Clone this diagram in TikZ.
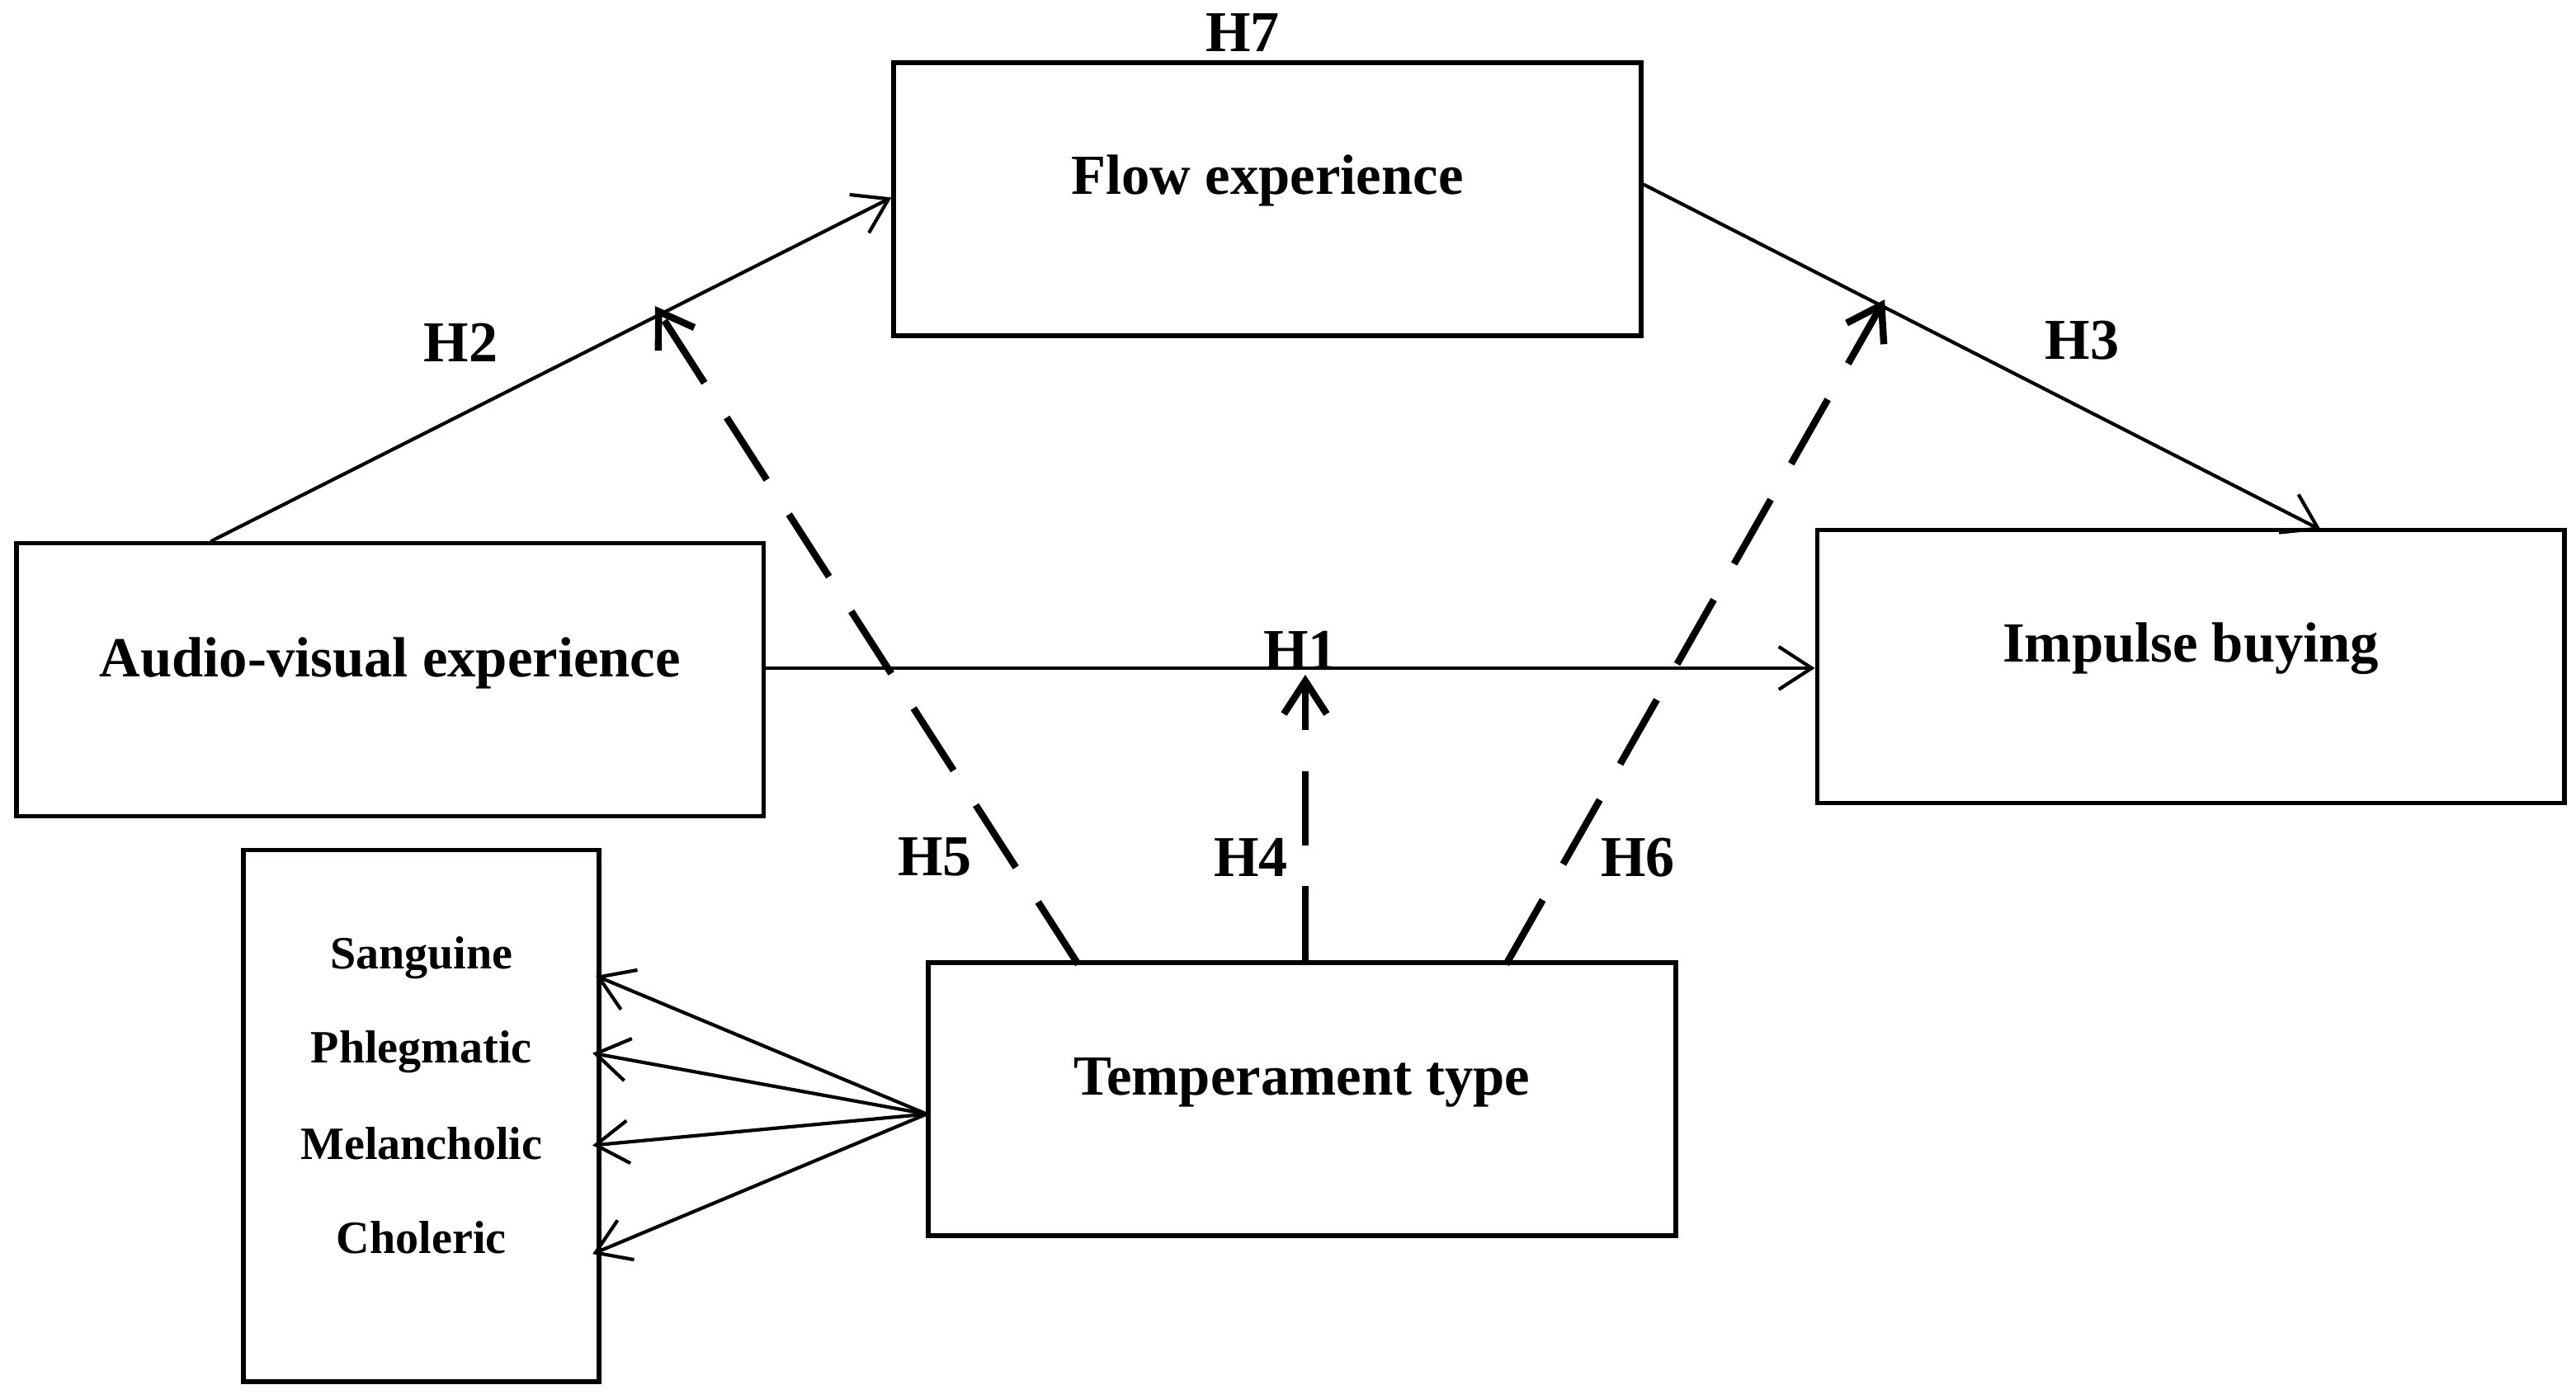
\documentclass[tikz,border=0pt]{standalone}
\usepackage{fontspec}
\setmainfont{Liberation Serif}
\usetikzlibrary{positioning}
\usetikzlibrary{arrows.meta}
\begin{document}
\begin{tikzpicture}[x=0.1mm,y=-0.1mm]
	\tikzset{
		boxnode/.style={rectangle, draw=black, thick, minimum width=45.4mm, minimum height=16.6mm},
		boxtext/.style={font=\bfseries\fontsize{9.8}{12}\selectfont},
		labnode/.style={font=\bfseries\fontsize{10}{12}\selectfont},
		typenode/.style={font=\bfseries\fontsize{8}{10}\selectfont},
		arr/.style={-{Straight Barb[length=2mm,width=2.6mm]}, semithick},
		darr/.style={-{Straight Barb[length=2mm,width=2.6mm]}, very thick, dash pattern=on 4.5mm off 2.5mm},
	}
	\useasboundingbox (0,0) rectangle (1565,850);
	\node[boxnode] (flow) at (770,121) {};
	\node[boxnode] (av) at (237,413) {};
	\node[boxnode] (ib) at (1331,405) {};
	\node[boxnode] (tt) at (791,668) {};
	\node[rectangle, draw=black, thick, minimum width=21.6mm, minimum height=32.3mm] (types) at (256,678) {};

	\node[boxtext] (flowtxt) at (770,110) {Flow experience};
	\node[boxtext] (avtxt) at (237,403) {Audio-visual experience};
	\node[boxtext] (ibtxt) at (1331,394) {Impulse buying};
	\node[boxtext] (tttxt) at (791,658) {Temperament type};

	\node[typenode] (san) at (256,582) {Sanguine};
	\node[typenode] (phl) at (256,639) {Phlegmatic};
	\node[typenode] (mel) at (256,695) {Melancholic};
	\node[typenode] (cho) at (256,752) {Choleric};

	\node[labnode] at (755,20) {H7};
	\node[labnode] at (280,208) {H2};
	\node[labnode] at (1265,207) {H3};
	\node[labnode] at (790,395) {H1};
	\node[labnode] at (568,521) {H5};
	\node[labnode] at (760,521) {H4};
	\node[labnode] at (995,521) {H6};

	\coordinate (m2) at (398,186);
	\coordinate (m1) at (793,410);
	\coordinate (m3) at (1145,182);
	\coordinate (tl) at (563,677);

	\draw[arr] (128,329) -- (flow.west |- 0,120);
	\draw[arr] (av.east |- 0,406) -- (ib.west |- 0,406);
	\draw[arr] (flow.east |- 0,112) -- (1410,322);

	\draw[darr] (655,586) -- (m2);
	\draw[darr] (tt.north -| m1) -- (m1);
	\draw[darr] (915,586) -- (m3);

	\draw[arr] (tl) -- (362,593);
	\draw[arr] (tl) -- (360,640);
	\draw[arr] (tl) -- (360,696);
	\draw[arr] (tl) -- (360,762);
\end{tikzpicture}
\end{document}
